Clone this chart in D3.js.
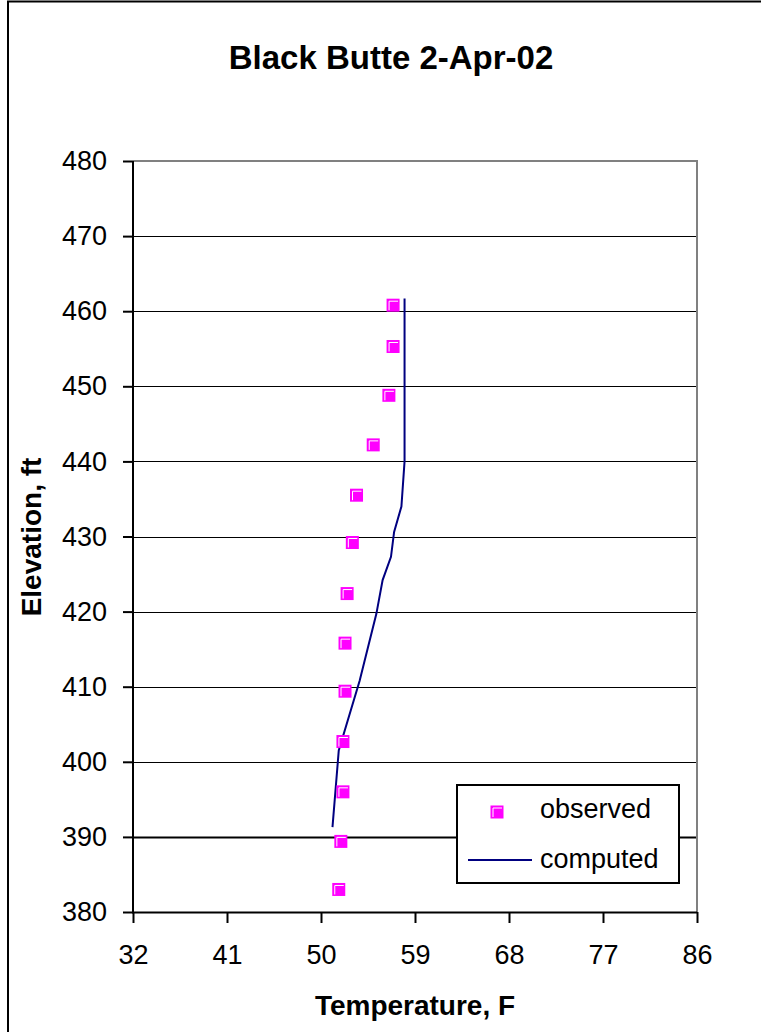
<!DOCTYPE html>
<html>
<head>
<meta charset="utf-8">
<script src="https://cdn.jsdelivr.net/npm/d3@7"></script>
<style>
html,body{margin:0;padding:0;background:#fff;}
svg{display:block;}
text{font-family:Arial,"Liberation Sans",sans-serif;}
</style>
</head>
<body>
<svg id="chart" width="761" height="1032"></svg>
<script>
const title = "Black Butte 2-Apr-02";
const xTitle = "Temperature, F";
const yTitle = "Elevation, ft";
const xTicks = [32, 41, 50, 59, 68, 77, 86];
const yTicks = [380, 390, 400, 410, 420, 430, 440, 450, 460, 470, 480];

const obsTemp = [56.9, 56.9, 56.5, 55.0, 53.4, 53.0, 52.5, 52.3, 52.3, 52.1, 52.1, 51.9, 51.7];
const obsElev = [460.8, 455.3, 448.8, 442.2, 435.5, 429.2, 422.4, 415.8, 409.4, 402.7, 396.0, 389.4, 383.0];

const compTemp = [58.0, 58.0, 57.7, 57.0, 56.7, 55.9, 55.3, 53.7, 51.7, 51.1];
const compElev = [461.7, 440.0, 434.0, 430.6, 427.3, 424.2, 419.7, 410.8, 401.5, 391.3];

const svg = d3.select("#chart");
const L = 133, R = 697, T = 161, B = 912;
const x = d3.scaleLinear().domain([32, 86]).range([L, R]);
const y = d3.scaleLinear().domain([380, 480]).range([B, T]);

// outer chart border
svg.append("rect").attr("x", 8).attr("y", 1.5).attr("width", 760).attr("height", 1040)
  .attr("fill", "#fff").attr("stroke", "#000").attr("stroke-width", 2);

// gridlines
svg.append("g").selectAll("line").data(yTicks.filter(d => d > 380 && d < 480)).join("line")
  .attr("x1", L).attr("x2", R)
  .attr("y1", d => Math.round(y(d)) + 0.5).attr("y2", d => Math.round(y(d)) + 0.5)
  .attr("stroke", "#000").attr("stroke-width", d => d === 390 ? 2 : 1);

// plot border top/right gray
svg.append("path")
  .attr("d", `M${L},${T}H${R}V${B}`)
  .attr("fill", "none").attr("stroke", "#808080").attr("stroke-width", 2);

// axes
const xAxis = d3.axisBottom(x).tickValues(xTicks).tickSize(11).tickPadding(22).tickFormat(d3.format("d"));
const gx = svg.append("g").attr("transform", `translate(0,${B})`).call(xAxis);
gx.select(".domain").attr("stroke", "#000").attr("stroke-width", 2).attr("d", `M${L-1},0.5H${R}`);
gx.selectAll(".tick line").attr("stroke", "#000").attr("stroke-width", 2);
gx.selectAll(".tick text").attr("font-size", 27).attr("fill", "#000")
  .attr("font-family", "Arial, 'Liberation Sans', sans-serif");

const yAxis = d3.axisLeft(y).tickValues(yTicks).tickSize(10).tickPadding(16).tickFormat(d3.format("d"));
const gy = svg.append("g").attr("transform", `translate(${L},0)`).call(yAxis);
gy.select(".domain").attr("stroke", "#000").attr("stroke-width", 2).attr("d", `M0,${T}V${B+1}`);
gy.selectAll(".tick line").attr("stroke", "#000").attr("stroke-width", 2);
gy.selectAll(".tick text").attr("font-size", 27).attr("fill", "#000")
  .attr("font-family", "Arial, 'Liberation Sans', sans-serif").attr("dy", "0.32em");

// computed line
const line = d3.line().x(d => x(d[0])).y(d => y(d[1]));
svg.append("path")
  .datum(compTemp.map((t, i) => [t, compElev[i]]))
  .attr("d", line).attr("fill", "none").attr("stroke", "#000080").attr("stroke-width", 2);

// observed markers
function marker(g, cx, cy) {
  const s = 13, h = s / 2;
  g.append("rect").attr("x", cx - h).attr("y", cy - h).attr("width", s).attr("height", s).attr("fill", "#FF00FF");
  g.append("path").attr("d", `M${cx - 4},${cy + 5}V${cy - 4}H${cx + 5}`)
    .attr("fill", "none").attr("stroke", "#fff").attr("stroke-width", 1);
}
const gm = svg.append("g");
obsTemp.forEach((t, i) => marker(gm, x(t), y(obsElev[i])));

// legend
const lg = svg.append("g");
lg.append("rect").attr("x", 457).attr("y", 785).attr("width", 222).attr("height", 98)
  .attr("fill", "#fff").attr("stroke", "#000").attr("stroke-width", 2);
marker(lg, 497, 812);
lg.append("text").attr("x", 540).attr("y", 818).attr("font-size", 27).text("observed");
lg.append("line").attr("x1", 468).attr("x2", 532).attr("y1", 860).attr("y2", 860)
  .attr("stroke", "#000080").attr("stroke-width", 2);
lg.append("text").attr("x", 540).attr("y", 868).attr("font-size", 27).text("computed");

// titles
svg.append("text").attr("x", 391).attr("y", 69).attr("text-anchor", "middle")
  .attr("font-size", 33).attr("font-weight", "bold").text(title);
svg.append("text").attr("x", 415).attr("y", 1015).attr("text-anchor", "middle")
  .attr("font-size", 28).attr("font-weight", "bold").text(xTitle);
svg.append("text").attr("transform", `translate(41,537) rotate(-90)`).attr("text-anchor", "middle")
  .attr("font-size", 28).attr("font-weight", "bold").text(yTitle);
</script>
</body>
</html>
